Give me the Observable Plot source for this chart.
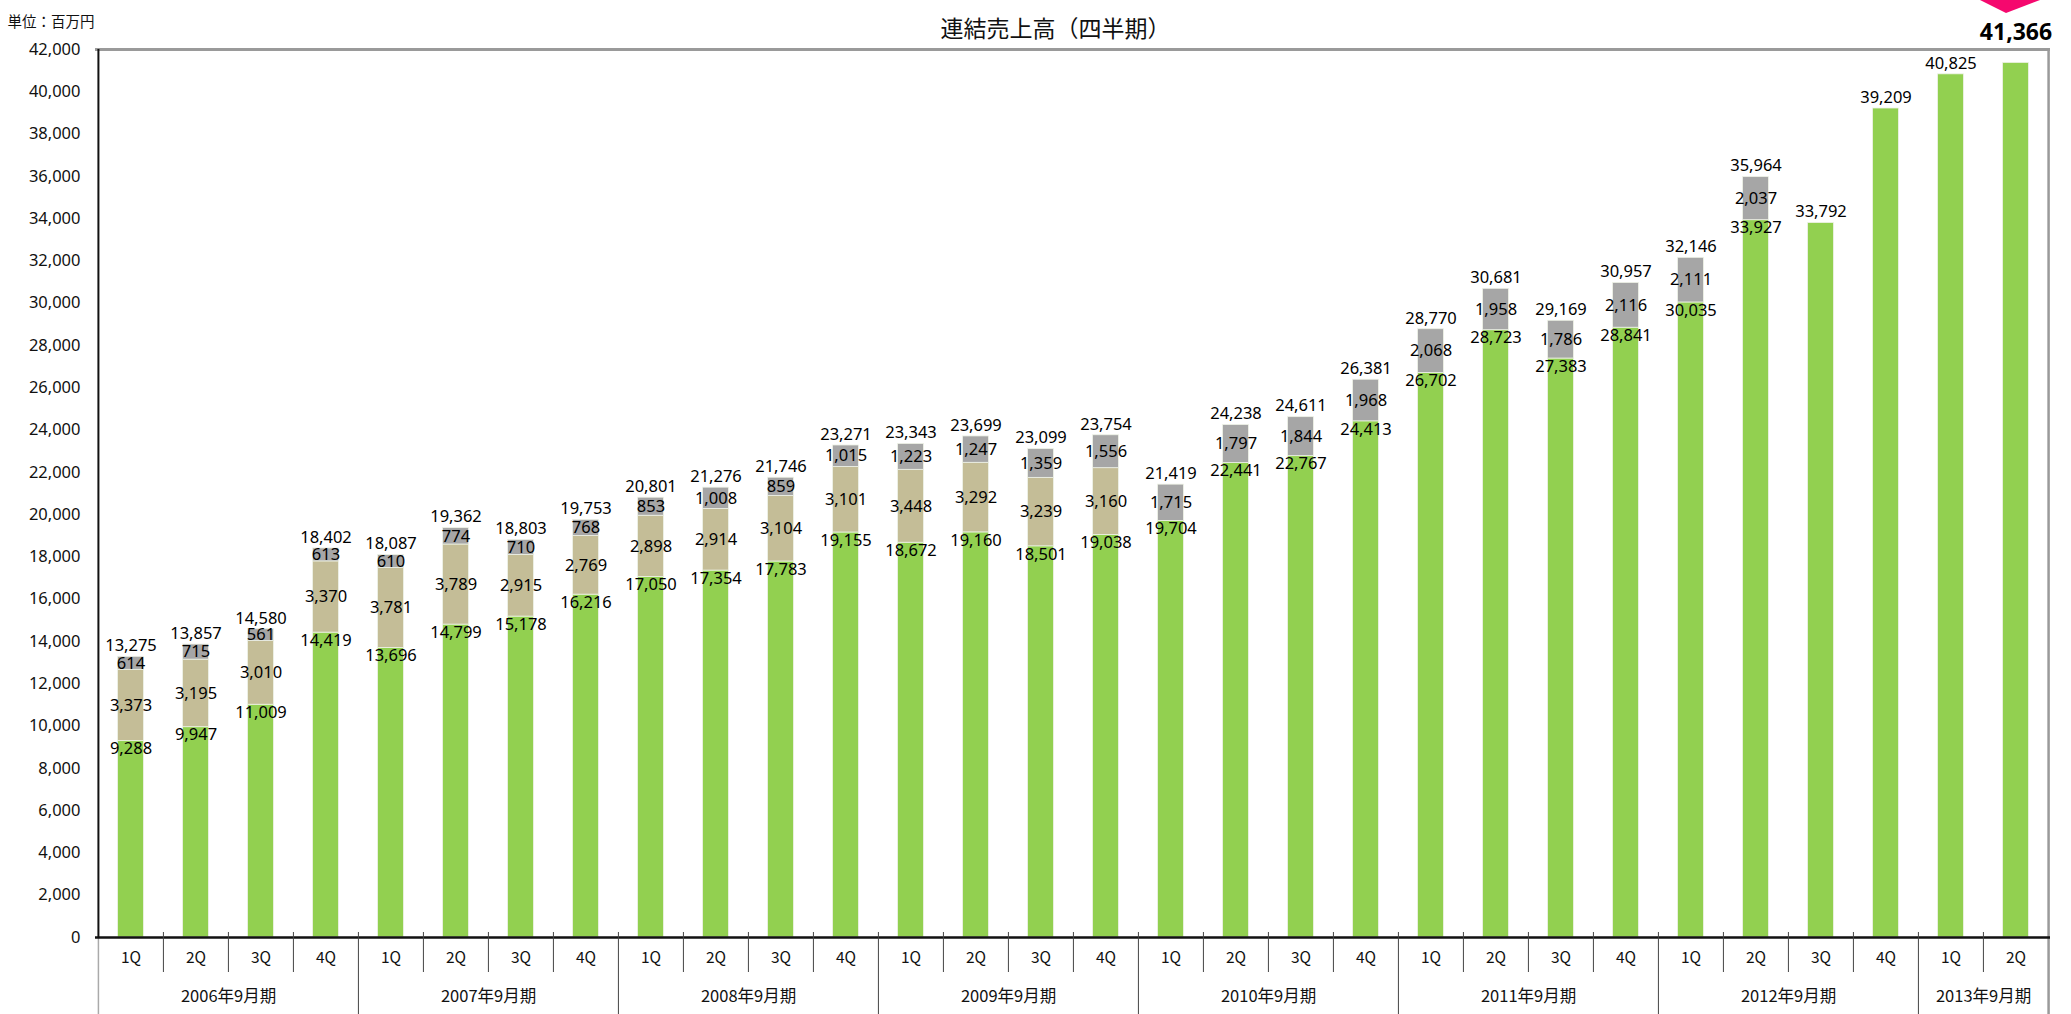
<!DOCTYPE html>
<html>
<head>
<meta charset="utf-8">
<script src="https://cdn.jsdelivr.net/npm/d3@7"></script>
<script src="https://cdn.jsdelivr.net/npm/@observablehq/plot@0.6"></script>
<style>
  body { margin: 0; background: #fff; }
  #wrap { position: relative; width: 2071px; height: 1014px; overflow: hidden; background: #fff; }
  #arrow { position: absolute; top: 0; left: 1980px; }
  #chart { position: absolute; top: 0; left: 0; }
</style>
</head>
<body>
<div id="wrap">
  <div id="chart"></div>
  <svg id="arrow" width="62" height="16"><polygon points="0,0 60,0 26,13" fill="#f5086e"/></svg>
</div>
<script>
// ---- data ----
const chartTitle = "連結売上高（四半期）";
const unitLabel = "単位：百万円";
const fiscalYears = ["2006年9月期","2007年9月期","2008年9月期","2009年9月期","2010年9月期","2011年9月期","2012年9月期","2013年9月期"];
const quarterNames = ["1Q","2Q","3Q","4Q"];
const quartersPerYear = [4,4,4,4,4,4,4,2];
const greenValues = [9288,9947,11009,14419, 13696,14799,15178,16216, 17050,17354,17783,19155, 18672,19160,18501,19038,
                     19704,22441,22767,24413, 26702,28723,27383,28841, 30035,33927,33792,39209, 40825,41366];
const beigeValues = [3373,3195,3010,3370, 3781,3789,2915,2769, 2898,2914,3104,3101, 3448,3292,3239,3160,
                     null,null,null,null, null,null,null,null, null,null,null,null, null,null];
const grayValues  = [614,715,561,613, 610,774,710,768, 853,1008,859,1015, 1223,1247,1359,1556,
                     1715,1797,1844,1968, 2068,1958,1786,2116, 2111,2037,null,null, null,null];
const totalValues = [13275,13857,14580,18402, 18087,19362,18803,19753, 20801,21276,21746,23271, 23343,23699,23099,23754,
                     21419,24238,24611,26381, 28770,30681,29169,30957, 32146,35964,33792,39209, 40825,41366];
const yTicks = d3.range(0, 42001, 2000);
const seriesNames = ["s1", "s2", "s3"];
const seriesColors = ["#92D050", "#C4BD97", "#A6A6A6"];

// ---- categories ----
const periods = [];
fiscalYears.forEach((fy, yi) => {
  for (let q = 0; q < quartersPerYear[yi]; q++) periods.push({key: fy + " " + quarterNames[q], fy, q: quarterNames[q], qi: q});
});
const keys = periods.map(p => p.key);

// ---- stacked segments ----
const segs = [];
periods.forEach((p, i) => {
  let base = 0;
  [[seriesNames[0], greenValues[i]], [seriesNames[1], beigeValues[i]], [seriesNames[2], grayValues[i]]].forEach(([s, v]) => {
    if (v == null) return;
    segs.push({key: p.key, series: s, y1: base, y2: base + v, value: v,
               stacked: beigeValues[i] != null || grayValues[i] != null});
    base += v;
  });
});
const totals = periods.map((p, i) => ({key: p.key, total: totalValues[i], last: i === periods.length - 1}));

// year label anchors (center of each fiscal-year group)
const yearLabels = [];
let idx = 0;
fiscalYears.forEach((fy, yi) => {
  const n = quartersPerYear[yi];
  yearLabels.push({key: keys[idx + n / 2 - 1], label: fy});
  idx += n;
});

// ---- layout ----
const W = 2071, H = 1014, mL = 95, mR = 21, mT = 49, mB = 77;
const bw = (W - mL - mR) / keys.length;
const plotH = H - mT - mB;
const numFont = "'Noto Sans', 'Liberation Sans', Arial, sans-serif";
const jpFont = "'Noto Sans CJK JP', sans-serif";
const fmt = d3.format(",");

const chart = Plot.plot({
  width: W, height: H,
  marginLeft: mL, marginRight: mR, marginTop: mT, marginBottom: mB,
  style: {background: "transparent", overflow: "visible"},
  x: {type: "band", domain: keys, padding: 0, axis: null},
  y: {domain: [0, 42000], axis: null},
  color: {domain: seriesNames, range: seriesColors},
  marks: [
    Plot.barY(segs, {x: "key", y1: "y1", y2: "y2", fill: "series", insetLeft: (bw - 26) / 2, insetRight: (bw - 26) / 2,
                     stroke: "#eef2e6", strokeWidth: 0.8}),
    // frame
    Plot.ruleY([42000], {stroke: "#9a9a9a", strokeWidth: 3}),
    Plot.ruleX([keys[keys.length - 1]], {dx: bw / 2, stroke: "#9a9a9a", strokeWidth: 2.5, insetBottom: -mB}),
    Plot.ruleX([keys[0]], {dx: -bw / 2, stroke: "#111", strokeWidth: 2}),
    Plot.ruleX([keys[0]], {dx: -bw / 2, stroke: "#aaa", strokeWidth: 1.5, insetTop: plotH, insetBottom: -mB}),
    Plot.ruleY([0], {stroke: "#111", strokeWidth: 2.5}),
    // y axis (inward ticks)
    Plot.tickY(yTicks, {y: d => d, x: keys[0], dx: -bw / 2 + 2, stroke: "#111", strokeWidth: 1, insetLeft: 0, insetRight: bw - 5}),
    Plot.text(yTicks, {y: d => d, frameAnchor: "left", dx: -15, textAnchor: "end", text: d => fmt(d),
                       fontSize: 16.5, fontFamily: numFont, fill: "#111"}),
    // x axis decorations
    Plot.ruleX(periods.filter(p => p.qi !== 0), {x: "key", dx: -bw / 2, stroke: "#444", strokeWidth: 1,
                                                insetTop: plotH - 5, insetBottom: -35}),
    Plot.ruleX(periods.filter((p, i) => p.qi === 0 && i > 0), {x: "key", dx: -bw / 2, stroke: "#444", strokeWidth: 1,
                                                insetTop: plotH - 5, insetBottom: -mB}),
    Plot.text(periods, {x: "key", frameAnchor: "bottom", dy: 25, text: "q", fontSize: 15.5, fontFamily: jpFont, fill: "#111"}),
    Plot.text(yearLabels, {x: "key", dx: bw / 2, frameAnchor: "bottom", dy: 64, text: "label", fontSize: 16.5, fontFamily: jpFont, fill: "#111"}),
    // titles
    Plot.text([chartTitle], {frameAnchor: "top", dx: 1055 - (mL + (W - mL - mR) / 2), dy: -29, text: d => d,
                             fontSize: 23, fontFamily: jpFont, fill: "#111"}),
    Plot.text([unitLabel], {frameAnchor: "top-left", textAnchor: "start", dx: 7 - mL, dy: 16 - mT, text: d => d,
                            fontSize: 14.5, fontFamily: jpFont, fill: "#111"}),
    // value labels
    Plot.text(segs.filter(d => d.series === seriesNames[0] && d.stacked), {x: "key", y: "y2", dy: 8, text: d => fmt(d.value),
                       fontSize: 16.5, fontFamily: numFont, fill: "#000"}),
    Plot.text(segs.filter(d => d.series !== seriesNames[0]), {x: "key", y: d => (d.y1 + d.y2) / 2, text: d => fmt(d.value),
                       fontSize: 16.5, fontFamily: numFont, fill: "#000"}),
    Plot.text(totals.filter(d => !d.last), {x: "key", y: "total", dy: -11, text: d => fmt(d.total),
                       fontSize: 16.5, fontFamily: numFont, fill: "#000"}),
    Plot.text(totals.filter(d => d.last), {x: "key", y: "total", dy: -30, text: d => fmt(d.total),
                       fontSize: 23, fontWeight: "bold", fontFamily: numFont, fill: "#000"})
  ]
});
document.getElementById("chart").appendChild(chart);
</script>
</body>
</html>
